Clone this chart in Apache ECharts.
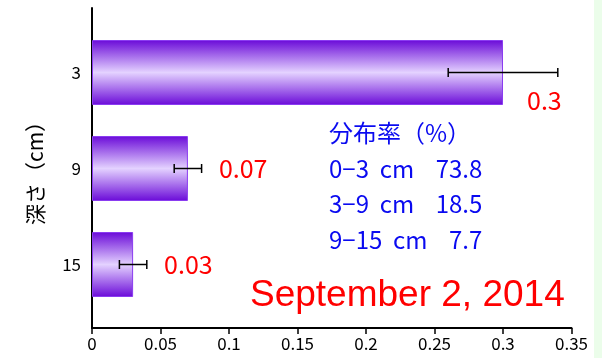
<!DOCTYPE html>
<html>
<head>
<meta charset="utf-8">
<script src="https://cdn.jsdelivr.net/npm/echarts@6/dist/echarts.min.js"></script>
<style>
  html, body { margin: 0; padding: 0; background: #ebfdea; }
  #chart { width: 594px; height: 358px; background: #ffffff; }
</style>
</head>
<body>
<div id="chart"></div>
<script>
// Depth categories (cm) and mean values with error ranges
const depths = ['3', '9', '15'];
const values = [0.3, 0.07, 0.03];
const errLow = [0.26, 0.06, 0.02];
const errHigh = [0.34, 0.08, 0.04];

// Distribution share annotation
const shareTitle = '分布率（%）';
const shareRows = ['0−3  cm    73.8', '3−9  cm    18.5', '9−15  cm    7.7'];
const dateText = 'September 2, 2014';
const axisName = '深さ（cm）';

const CJK = '"Noto Sans CJK JP", "Noto Sans", sans-serif';

const chart = echarts.init(document.getElementById('chart'), null, { renderer: 'canvas' });

const barGradient = new echarts.graphic.LinearGradient(0, 0, 0, 1, [
  { offset: 0, color: '#6a0ad8' },
  { offset: 0.5, color: '#e4d2ff' },
  { offset: 1, color: '#6a0ad8' }
]);

const labelDistance = [24, 31, 31];
const labelOffset = [[0, 28], [0, 0], [0, 0]];

const barData = values.map((v, i) => ({
  value: v,
  label: {
    show: true,
    position: 'right',
    distance: labelDistance[i],
    offset: labelOffset[i],
    color: '#ff0000',
    fontSize: 25,
    fontFamily: CJK,
    formatter: () => String(v)
  }
}));

const errData = values.map((v, i) => [errLow[i], errHigh[i], i]);

const lineY = 136;
const lineStep = 35.5;
const textGraphics = [shareTitle].concat(shareRows).map((t, i) => ({
  type: 'text',
  left: 329,
  top: lineY + i * lineStep - 15,
  style: { text: t, fill: '#0a0af0', fontSize: 24, fontFamily: CJK }
}));
textGraphics.push({
  type: 'text',
  left: 250,
  top: 277,
  style: { text: dateText, fill: '#ff0000', fontSize: 37, fontFamily: '"Liberation Sans", Arial, sans-serif' }
});

chart.setOption({
  animation: false,
  grid: [
    { left: 92, width: 479.5, top: 24.5, height: 288 },
    { left: 92, width: 479.5, top: 8, height: 320 }
  ],
  xAxis: [
    { gridIndex: 0, type: 'value', min: 0, max: 0.35, show: false },
    {
      gridIndex: 1, type: 'value', min: 0, max: 0.35, interval: 0.05,
      axisLine: { show: true, lineStyle: { color: '#000', width: 2 } },
      axisTick: { show: true, length: 6, lineStyle: { color: '#000', width: 1.5 } },
      splitLine: { show: false },
      axisLabel: {
        color: '#000', fontSize: 17, fontFamily: CJK, margin: 7,
        formatter: v => String(+v.toFixed(2))
      }
    }
  ],
  yAxis: [
    {
      gridIndex: 0, type: 'category', data: depths, inverse: true,
      axisLine: { show: false }, axisTick: { show: false },
      axisLabel: { color: '#000', fontSize: 17, fontFamily: CJK, margin: 11 }
    },
    {
      gridIndex: 1, type: 'value', min: 0, max: 1,
      axisLine: { show: true, onZero: false, lineStyle: { color: '#000', width: 2 } },
      axisTick: { show: false }, axisLabel: { show: false }, splitLine: { show: false },
      name: axisName, nameLocation: 'middle', nameRotate: 90, nameGap: 46,
      nameTextStyle: { color: '#000', fontSize: 21, fontFamily: CJK }
    }
  ],
  series: [
    {
      type: 'bar',
      xAxisIndex: 0, yAxisIndex: 0,
      barWidth: 65,
      data: barData,
      itemStyle: { color: barGradient, borderColor: '#8a3cf0', borderWidth: 1 }
    },
    {
      type: 'custom',
      xAxisIndex: 0, yAxisIndex: 0,
      data: errData,
      z: 5,
      renderItem: function (params, api) {
        const lo = api.coord([api.value(0), api.value(2)]);
        const hi = api.coord([api.value(1), api.value(2)]);
        const cap = 4.5;
        const style = { stroke: '#000', lineWidth: 1.5 };
        return {
          type: 'group',
          children: [
            { type: 'line', shape: { x1: lo[0], y1: lo[1], x2: hi[0], y2: hi[1] }, style },
            { type: 'line', shape: { x1: lo[0], y1: lo[1] - cap, x2: lo[0], y2: lo[1] + cap }, style },
            { type: 'line', shape: { x1: hi[0], y1: hi[1] - cap, x2: hi[0], y2: hi[1] + cap }, style }
          ]
        };
      }
    }
  ],
  graphic: textGraphics
});
</script>
</body>
</html>
